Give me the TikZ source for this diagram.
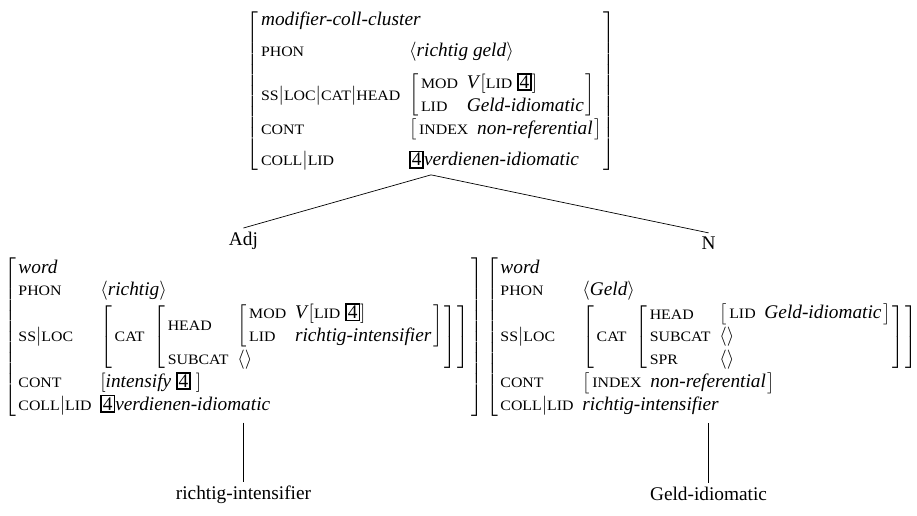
\documentclass[tikz,border=0pt]{standalone}
\usepackage{fontspec}
\setmainfont{Liberation Serif}
\newfontfamily\featfont[FakeStretch=1.1]{Liberation Serif}
\usepackage{array}
\usetikzlibrary{positioning}

% feature names, types, tags and lists
\newcommand{\feat}[1]{{\featfont\fontsize{8.2}{10}\selectfont #1}}
\newcommand{\typ}[1]{\textit{#1}}
\newcommand{\tagn}[1]{{\setlength{\fboxsep}{0.6pt}\setlength{\fboxrule}{0.9pt}\fbox{#1}}}
\newcommand{\fsep}{$\vert$}
\newcommand{\lst}[1]{$\langle$#1$\rangle$}
\newcommand{\avm}[1]{$\left[\begin{tabular}{@{\hspace{1.5pt}}l@{\hspace{5pt}}l@{\hspace{1pt}}}#1\end{tabular}\right]$}
\newcommand{\avmline}[1]{$\left[\hbox{#1}\right]$}

\tikzset{
  avmnode/.style={
    inner sep=1pt,
    font=\fontsize{11}{13}\selectfont,
  },
  cat/.style={
    inner sep=2pt,
    font=\fontsize{11}{13}\selectfont,
  }
}

\begin{document}
\begin{tikzpicture}[x=0.02cm, y=-0.02cm]
\useasboundingbox (0,0) rectangle (917,515);

% Mother
\node[avmnode, anchor=north] (mother) at (431,7) {\avm{
  \multicolumn{2}{@{\hspace{1.5pt}}l@{}}{\typ{modifier-coll-cluster}}\\[5pt]
  \feat{PHON} & \lst{\typ{richtig geld}}\\[5pt]
  \feat{SS}\fsep\feat{LOC}\fsep\feat{CAT}\fsep\feat{HEAD} & \avm{\feat{MOD} & \typ{V}\avmline{\feat{LID} \tagn{4}}\\ \feat{LID} & \typ{Geld-idiomatic}}\\[5pt]
  \feat{CONT} & \avm{\feat{INDEX} & \typ{non-referential}}\\[5pt]
  \feat{COLL}\fsep\feat{LID} & \tagn{4}\typ{verdienen-idiomatic}
}};

% Daughters
\node[avmnode, anchor=north west] (adjavm) at (2,255) {\avm{
  \multicolumn{2}{@{\hspace{1.5pt}}l@{}}{\typ{word}}\\
  \feat{PHON} & \lst{\typ{richtig}}\\
  \feat{SS}\fsep\feat{LOC} & \avm{\feat{CAT} & \avm{\feat{HEAD} & \avm{\feat{MOD} & \typ{V}\avmline{\feat{LID} \tagn{4}}\\ \feat{LID} & \typ{richtig-intensifier}}\\ \feat{SUBCAT} & \lst{}}}\\
  \feat{CONT} & \avmline{\typ{intensify} \tagn{4}\ }\\
  \feat{COLL}\fsep\feat{LID} & \tagn{4}\typ{verdienen-idiomatic}
}};
\node[avmnode, anchor=north west] (navm) at (484,255) {\avm{
  \multicolumn{2}{@{\hspace{1.5pt}}l@{}}{\typ{word}}\\
  \feat{PHON} & \lst{\typ{Geld}}\\
  \feat{SS}\fsep\feat{LOC} & \avm{\feat{CAT} & \avm{\feat{HEAD} & \avm{\feat{LID} & \typ{Geld-idiomatic}}\\ \feat{SUBCAT} & \lst{}\\ \feat{SPR} & \lst{}}}\\
  \feat{CONT} & \avm{\feat{INDEX} & \typ{non-referential}}\\
  \feat{COLL}\fsep\feat{LID} & \typ{richtig-intensifier}
}};

% Labels
\node[cat, above=1pt of adjavm] (adj) {Adj};
\node[cat, above=1pt of navm] (n) {N};
\node[cat, below=36pt of adjavm] (adjleaf) {richtig-intensifier};
\node[cat, below=36pt of navm] (nleaf) {Geld-idiomatic};

% Branches
\draw (mother.south) -- (adj.north);
\draw (mother.south) -- (n.north);
\draw[shorten <=2pt] (adjavm.south) -- (adjleaf.north);
\draw[shorten <=2pt] (navm.south) -- (nleaf.north);

\end{tikzpicture}
\end{document}
